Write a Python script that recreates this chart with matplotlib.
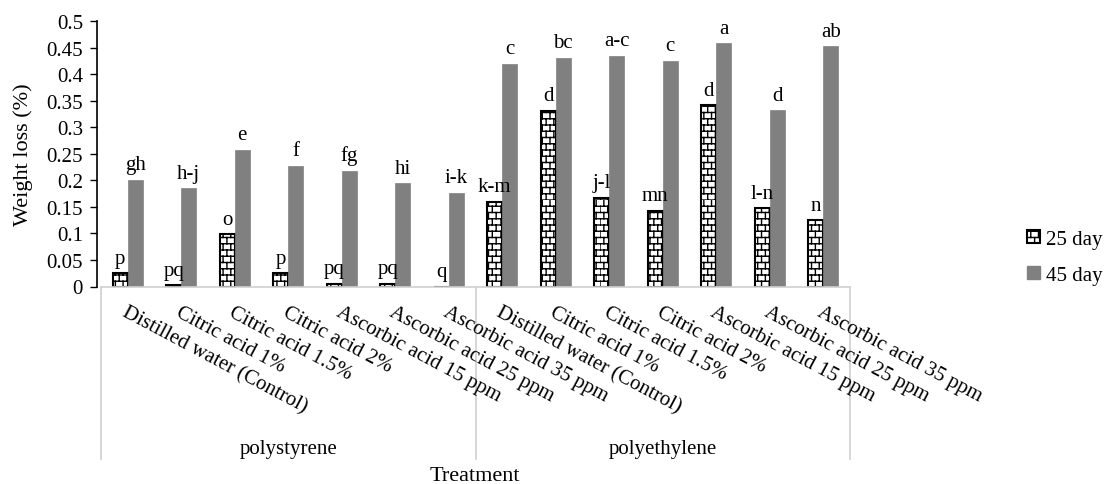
"""Weight loss of samples by packaging and treatment, 25 vs 45 days."""

import numpy as np
import matplotlib
matplotlib.use("Agg")
import matplotlib.pyplot as plt
from matplotlib import hatch as mhatch
from matplotlib.path import Path
from matplotlib.patches import Patch
from matplotlib.ticker import FuncFormatter

groups = ["polystyrene", "polyethylene"]
treatments = ["Distilled water (Control)", "Citric acid 1%", "Citric acid 1.5%",
              "Citric acid 2%", "Ascorbic acid 15 ppm", "Ascorbic acid 25 ppm",
              "Ascorbic acid 35 ppm"]

ps_25 = [0.025, 0.002, 0.098, 0.025, 0.005, 0.005, 0.0]
ps_45 = [0.201, 0.185, 0.258, 0.227, 0.218, 0.194, 0.177]
pe_25 = [0.160, 0.331, 0.167, 0.143, 0.341, 0.147, 0.125]
pe_45 = [0.419, 0.431, 0.435, 0.425, 0.458, 0.332, 0.452]

ps_25_letters = ["p", "pq", "o", "p", "pq", "pq", "q"]
ps_45_letters = ["gh", "h-j", "e", "f", "fg", "hi", "i-k"]
pe_25_letters = ["k-m", "d", "j-l", "mn", "d", "l-n", "n"]
pe_45_letters = ["c", "bc", "a-c", "c", "a", "d", "ab"]


class BrickHatch(mhatch.HatchPatternBase):
    """Brick pattern used for the '+' hatch (Excel-like)."""

    def __init__(self, hatch, density):
        self.rows = 16 if "+" in hatch else 0
        self.cols = 13
        self.num_vertices = 2 * self.rows * (1 + self.cols)

    def set_vertices_and_codes(self, vertices, codes):
        k = 0
        for i in range(self.rows):
            y0 = i / self.rows
            y1 = (i + 1) / self.rows
            vertices[k] = (0, y0)
            vertices[k + 1] = (1, y0)
            codes[k] = Path.MOVETO
            codes[k + 1] = Path.LINETO
            k += 2
            shift = 0.5 * (i % 2)
            for j in range(self.cols):
                x = (j + shift) / self.cols
                vertices[k] = (x, y0)
                vertices[k + 1] = (x, y1)
                codes[k] = Path.MOVETO
                codes[k + 1] = Path.LINETO
                k += 2


mhatch._hatch_types = [BrickHatch]

plt.rcParams["font.family"] = ["Liberation Serif", "DejaVu Serif"]
plt.rcParams["hatch.linewidth"] = 1.0

fig = plt.figure(figsize=(11.04, 4.85), dpi=100)
ax = fig.add_axes([101 / 1104, 1 - 287.5 / 485, 749 / 1104, 265.5 / 485])

v25 = ps_25 + pe_25
v45 = ps_45 + pe_45
l25 = ps_25_letters + pe_25_letters
l45 = ps_45_letters + pe_45_letters
x = np.arange(len(v25))
w = 0.28

ax.bar(x - w / 2, v25, w, color="white", edgecolor="black", linewidth=1.5,
       hatch="+", label="25 day")
ax.bar(x + w / 2, v45, w, color="#808080", edgecolor="#808080", linewidth=0.5,
       label="45 day")

for xi, v, t in zip(x - w / 2, v25, l25):
    ax.annotate(t, (xi, v), xytext=(0, 4), textcoords="offset points",
                ha="center", va="bottom", fontsize=15)
for xi, v, t in zip(x + w / 2, v45, l45):
    ax.annotate(t, (xi, v), xytext=(0, 4), textcoords="offset points",
                ha="center", va="bottom", fontsize=15)

ax.set_xlim(-0.5, len(x) - 0.5)
ax.set_ylim(0, 0.5)
ax.set_yticks(np.arange(0, 0.501, 0.05))
ax.yaxis.set_major_formatter(FuncFormatter(lambda v, p: f"{v:.2f}".rstrip("0").rstrip(".") or "0"))
ax.tick_params(axis="y", direction="out", length=5, width=1, labelsize=15, pad=5)
ax.set_xticks([])
for s in ["top", "right"]:
    ax.spines[s].set_visible(False)
ax.spines["left"].set_position(("outward", 3))
ax.spines["left"].set_linewidth(1.2)
ax.spines["bottom"].set_color("#d0d0d0")
ax.spines["bottom"].set_linewidth(1.2)

# category labels, group labels and separators
tr = ax.get_xaxis_transform()
names = treatments * len(groups)
for xi, name in zip(x, names):
    ax.text(xi, -0.06, name, transform=tr, rotation=-28, rotation_mode="anchor",
            ha="left", va="top", fontsize=15)
n = len(treatments)
for g, name in enumerate(groups):
    ax.text(g * n + (n - 1) / 2, -0.612, name, transform=tr, ha="center",
            va="center", fontsize=15)
for b in np.arange(len(groups) + 1) * n - 0.5:
    ax.plot([b, b], [0, -0.65], transform=tr, color="#d0d0d0", lw=1.2,
            clip_on=False)

fig.text(475 / 1104, 1 - 477 / 485, "Treatment", ha="center", va="center", fontsize=16)
fig.text(23 / 1104, 1 - 155 / 485, "Weight loss (%)", rotation=90,
         ha="center", va="center", fontsize=16)

handles = [Patch(facecolor="white", edgecolor="black", linewidth=1.5, hatch="+"),
           Patch(facecolor="#808080", edgecolor="#808080")]
fig.legend(handles, ["25 day", "45 day"], loc="upper left",
           bbox_to_anchor=(1027 / 1104, 1 - 231 / 485), frameon=False,
           fontsize=15, handlelength=0.6, handleheight=0.6, handletextpad=0.3,
           labelspacing=0.8, borderpad=0, borderaxespad=0)

fig.savefig("out.png", dpi=100)
plt.close(fig)
